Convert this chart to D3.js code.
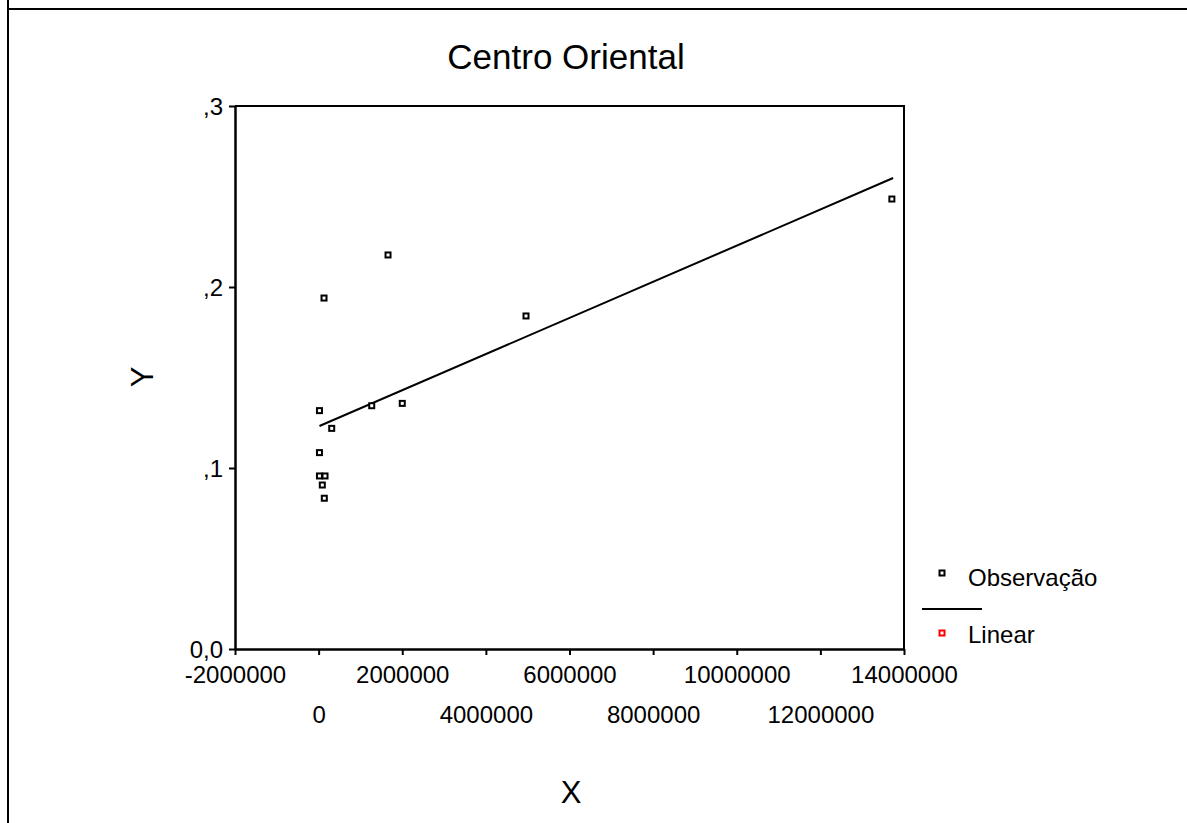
<!DOCTYPE html>
<html>
<head>
<meta charset="utf-8">
<script src="https://cdn.jsdelivr.net/npm/d3@7"></script>
<style>
  body { margin: 0; background: #fff; }
  text { font-family: Arial, 'Liberation Sans', sans-serif; fill: #000; }
</style>
</head>
<body>
<div id="wrapper"></div>
<script>
// observed points (x, y)
const obsX = [20000, 313000, 1270000, 2000000, 20000, 20000, 153000, 88000, 136000, 129000, 1660000, 4960000, 13710000];
const obsY = [0.1317, 0.1219, 0.1344, 0.1357, 0.1085, 0.0956, 0.0956, 0.0906, 0.0833, 0.1939, 0.2177, 0.184, 0.2486];

// linear fit, read at its two ends
const fitX = [20000, 13740000];
const fitY = [0.1232, 0.2602];

const xTicks = [-2000000, 0, 2000000, 4000000, 6000000, 8000000, 10000000, 12000000, 14000000];
const yTicks = [0, 0.1, 0.2, 0.3];
const yTickLabels = ['0,0', ',1', ',2', ',3'];

const legendLabels = ['Observação', 'Linear'];

// 1. dimensions
const dims = {width: 1187, height: 823};
const plot = {left: 235, right: 904, top: 106, bottom: 649};

// 2. canvas
const svg = d3.select('#wrapper')
  .append('svg')
  .attr('width', dims.width)
  .attr('height', dims.height);

svg.append('rect')
  .attr('width', dims.width)
  .attr('height', dims.height)
  .attr('fill', '#fff');

// outer frame (left + top edges visible)
svg.append('path')
  .attr('d', `M8,0 V${dims.height} M8,9 H${dims.width}`)
  .attr('fill', 'none')
  .attr('stroke', '#000')
  .attr('stroke-width', 2);

// 3. scales
const x = d3.scaleLinear().domain([-2000000, 14000000]).range([plot.left, plot.right]);
const y = d3.scaleLinear().domain([0, 0.3]).range([plot.bottom, plot.top]);

// plot box (top + right)
svg.append('path')
  .attr('d', `M${plot.left},${plot.top} H${plot.right} V${plot.bottom}`)
  .attr('fill', 'none')
  .attr('stroke', '#000')
  .attr('stroke-width', 2);

// 4. axes
// plain hyphen for negatives, like the original
const fmt = d3.formatLocale({decimal: '.', thousands: '', grouping: [3], currency: ['', ''], minus: '-'}).format('d');

const xAxis = svg.append('g')
  .attr('transform', `translate(0,${plot.bottom})`)
  .call(d3.axisBottom(x).tickValues(xTicks).tickSize(6).tickSizeOuter(0).tickFormat(fmt));

xAxis.select('.domain').attr('stroke-width', 2.5);
xAxis.selectAll('.tick line').attr('stroke-width', 2);
xAxis.selectAll('.tick text')
  .attr('font-size', 24)
  .attr('font-family', null)
  .attr('dy', null)
  .attr('y', (d, i) => i % 2 == 0 ? 34 : 74);

const yAxis = svg.append('g')
  .attr('transform', `translate(${plot.left},0)`)
  .call(d3.axisLeft(y).tickValues(yTicks).tickSize(6).tickSizeOuter(0).tickPadding(6)
    .tickFormat((d, i) => yTickLabels[i]));

yAxis.select('.domain').attr('stroke-width', 2.5);
yAxis.selectAll('.tick line').attr('stroke-width', 2);
yAxis.selectAll('.tick text')
  .attr('font-size', 24)
  .attr('font-family', null)
  .attr('dy', '0.36em');

svg.selectAll('.domain').attr('stroke', '#000');

// 5. data
const line = d3.line().x(d => x(d[0])).y(d => y(d[1]));
svg.append('path')
  .attr('d', line(d3.zip(fitX, fitY)))
  .attr('fill', 'none')
  .attr('stroke', '#000')
  .attr('stroke-width', 2);

const sq = 5;
svg.selectAll('.obs')
  .data(d3.zip(obsX, obsY))
  .enter()
  .append('rect')
  .attr('class', 'obs')
  .attr('x', d => x(d[0]) - sq / 2)
  .attr('y', d => y(d[1]) - sq / 2)
  .attr('width', sq)
  .attr('height', sq)
  .attr('fill', '#fff')
  .attr('stroke', '#000')
  .attr('stroke-width', 2);

// 6. peripherals
svg.append('text')
  .attr('x', 566)
  .attr('y', 69)
  .attr('text-anchor', 'middle')
  .attr('font-size', 35)
  .text('Centro Oriental');

svg.append('text')
  .attr('x', 571)
  .attr('y', 803)
  .attr('text-anchor', 'middle')
  .attr('font-size', 31)
  .text('X');

svg.append('text')
  .attr('transform', 'translate(153,377) rotate(-90)')
  .attr('text-anchor', 'middle')
  .attr('font-size', 31)
  .text('Y');

// legend
const legend = svg.append('g');
legend.append('rect')
  .attr('x', 942 - sq / 2).attr('y', 573 - sq / 2)
  .attr('width', sq).attr('height', sq)
  .attr('fill', '#fff').attr('stroke', '#000').attr('stroke-width', 2);
legend.append('text')
  .attr('x', 968).attr('y', 586)
  .attr('font-size', 24)
  .text(legendLabels[0]);
legend.append('line')
  .attr('x1', 922).attr('x2', 982)
  .attr('y1', 609).attr('y2', 609)
  .attr('stroke', '#000').attr('stroke-width', 2);
legend.append('rect')
  .attr('x', 942 - sq / 2).attr('y', 633 - sq / 2)
  .attr('width', sq).attr('height', sq)
  .attr('fill', '#fff').attr('stroke', '#f00').attr('stroke-width', 2);
legend.append('text')
  .attr('x', 968).attr('y', 643)
  .attr('font-size', 24)
  .text(legendLabels[1]);
</script>
</body>
</html>
